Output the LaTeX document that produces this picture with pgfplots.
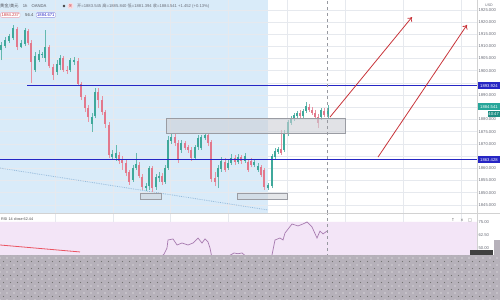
\documentclass[border=0pt]{standalone}
\usepackage{fontspec}
\setmainfont{Liberation Sans}
\newfontfamily\cjk{Noto Sans CJK SC}
\newfontfamily\dejavu{DejaVu Sans}
\usepackage{pgfplots}
\pgfplotsset{compat=1.18}
\usepackage{pgfplotstable}
\usetikzlibrary{arrows.meta,patterns.meta}

\definecolor{upc}{HTML}{3FA89B}
\definecolor{dnc}{HTML}{E2788C}
\definecolor{bluebg}{HTML}{D9EBF9}
\definecolor{lvl}{HTML}{2626C4}
\definecolor{arr}{HTML}{C8343A}
\definecolor{rsic}{HTML}{A77BB0}
\definecolor{rsibg}{HTML}{F3E5F7}
\definecolor{gridc}{HTML}{E6E9EE}
\definecolor{lblc}{HTML}{6A6D78}
\definecolor{maskc}{HTML}{B6B1BA}
\definecolor{zone}{HTML}{CDD0D6}
\definecolor{zoneb}{HTML}{9A9CA3}
\definecolor{trend}{HTML}{94BADB}
\definecolor{curc}{HTML}{26A69A}

\newcommand{\tf}{\fontsize{4.2}{5}\selectfont}

\pgfplotsset{candle/.style={draw=none, mark=none, forget plot,
  error bars/.cd, y dir=plus, y explicit, error mark=none}}

% up candles: x open high low close
\pgfplotstableread{
x o h l c
1 1908.5 1911.8 1904.4 1910.6
5 1910.1 1913.8 1909.3 1912.6
9 1912.2 1915.1 1911.4 1914.2
13 1913.4 1918.8 1912.6 1917.5
21 1909.7 1912.6 1909.3 1911.4
25 1911.0 1917.5 1910.1 1916.7
35 1900.3 1907.7 1899.5 1906.0
39 1904.4 1908.5 1903.6 1906.9
42 1906.5 1907.7 1905.2 1906.9
45 1905.2 1916.7 1903.6 1909.7
57 1899.5 1904.4 1898.3 1902.8
60 1902.4 1906.5 1900.3 1905.2
70 1900.3 1905.2 1899.5 1904.4
74 1903.6 1905.6 1902.4 1904.4
92 1878.2 1882.7 1874.9 1881.0
95 1881.4 1892.9 1880.6 1891.3
112 1864.6 1867.5 1863.4 1865.9
116 1864.2 1869.6 1863.0 1866.3
133 1855.2 1861.4 1854.4 1860.1
136 1860.1 1866.3 1859.3 1861.8
146 1851.9 1854.0 1850.7 1852.7
149 1852.7 1860.9 1851.1 1860.1
156 1852.3 1857.7 1851.1 1856.4
159 1856.0 1858.5 1854.4 1856.8
165 1854.4 1861.4 1853.6 1860.1
168 1860.1 1873.2 1859.3 1871.6
171 1871.2 1874.1 1870.0 1872.8
181 1867.5 1871.6 1866.3 1870.4
195 1864.2 1869.6 1863.4 1868.7
198 1868.7 1873.7 1867.5 1872.4
201 1868.3 1873.7 1867.5 1872.8
205 1872.4 1874.5 1871.6 1873.7
218 1856.4 1861.4 1851.9 1860.1
221 1859.7 1864.6 1858.5 1863.0
228 1860.1 1863.4 1859.3 1862.2
231 1862.2 1865.9 1861.4 1864.2
238 1862.6 1865.9 1861.8 1864.6
245 1863.0 1866.3 1862.2 1865.0
254 1861.4 1863.4 1860.5 1862.6
258 1859.3 1862.2 1858.5 1860.9
268 1851.9 1854.0 1851.1 1853.2
272 1852.7 1865.9 1851.9 1865.0
275 1864.6 1868.3 1863.8 1867.1
278 1866.7 1868.7 1865.9 1867.9
284 1867.5 1875.7 1866.7 1874.1
288 1874.1 1879.8 1873.2 1879.0
291 1878.6 1881.4 1877.8 1880.6
294 1880.2 1882.7 1879.4 1881.9
297 1881.4 1883.5 1880.6 1882.7
303 1881.4 1884.3 1880.6 1883.5
306 1883.5 1887.2 1882.7 1885.5
321 1881.0 1884.7 1879.8 1883.9
328 1881.4 1886.0 1880.6 1884.7
}\upcandles

% down candles: x open high low close
\pgfplotstableread{
x o h l c
17 1917.1 1917.9 1908.5 1909.7
28 1916.3 1917.1 1910.6 1911.4
31 1911.4 1912.6 1895.0 1903.6
49 1909.7 1910.6 1901.1 1901.9
53 1901.5 1902.8 1896.2 1898.3
63 1905.2 1906.0 1899.5 1900.3
67 1900.3 1901.9 1898.7 1899.9
78 1904.0 1905.2 1893.7 1894.6
81 1894.6 1895.4 1888.0 1889.2
85 1889.2 1890.0 1883.1 1884.7
88 1884.7 1886.0 1879.0 1881.0
98 1891.3 1892.9 1884.7 1888.0
102 1888.0 1889.6 1881.9 1883.1
105 1883.1 1883.9 1876.5 1878.2
109 1877.8 1879.0 1864.2 1865.5
119 1865.5 1866.7 1861.8 1863.0
122 1863.4 1865.0 1859.3 1862.2
126 1862.2 1863.4 1856.8 1858.1
129 1858.5 1859.3 1853.2 1854.4
139 1861.4 1862.6 1856.0 1856.8
142 1856.4 1857.7 1851.1 1852.3
152 1860.1 1860.9 1850.3 1851.9
162 1856.8 1858.1 1853.2 1854.4
175 1872.8 1874.1 1869.1 1870.4
178 1870.4 1871.6 1862.2 1863.4
185 1870.4 1871.2 1867.5 1868.3
188 1868.7 1869.6 1866.3 1867.5
191 1867.5 1868.7 1863.0 1864.2
208 1873.7 1874.5 1869.1 1870.4
211 1870.8 1871.6 1854.4 1855.6
215 1856.0 1858.5 1852.7 1854.4
225 1862.6 1864.2 1858.5 1859.3
235 1864.2 1865.5 1861.4 1862.6
241 1864.6 1865.5 1861.8 1863.0
248 1862.6 1863.8 1858.5 1859.3
251 1863.0 1864.2 1860.5 1861.4
261 1860.5 1861.4 1856.4 1857.3
264 1859.3 1860.1 1851.1 1852.3
281 1867.9 1875.7 1865.5 1866.3
300 1882.7 1883.9 1880.6 1881.4
309 1885.1 1886.4 1883.1 1883.9
312 1883.9 1885.1 1881.9 1882.7
315 1882.7 1883.9 1880.2 1881.0
318 1881.0 1882.3 1876.5 1878.6
324 1883.5 1884.7 1881.0 1881.9
}\dncandles

% RSI (14, close)
\pgfplotstableread{
x r
150 38
155 40
160 41
164 44
167 50.0
168 57.7
173 58.7
177 52.9
182 54.8
188 52.9
193 54.8
198 59.6
202 54.8
205 58.7
208 55.8
210 50.0
212 40.4
216 37
220 39
225 41
230 43
234 45.2
238 44.5
242 45.2
246 42
250 41
255 40
260 39
265 35
268 36.5
272 43.3
275 57.7
280 59.6
283 57.7
285 64.4
292 73.1
298 71.2
303 73.1
307 75.0
312 70.2
317 59.6
320 66.3
323 63.5
327 66.3
}\rsidata

\begin{document}
\begin{tikzpicture}
\fill[white] (0bp,0bp) rectangle (500bp,300bp);
\clip (0bp,0bp) rectangle (500bp,300bp);
% highlighted time range (background)
\fill[bluebg] (0bp,87bp) rectangle (268bp,300bp);

% ---------------- main price pane ----------------
\begin{axis}[
  at={(0bp,87bp)}, anchor=south west,
  scale only axis, width=477bp, height=213bp,
  xmin=0, xmax=477, ymin=1841.67, ymax=1929,
  axis line style={draw=none},
  tick style={draw=none},
  xtick={55,113,170,228,287,345,403,461},
  xticklabels={},
  ytick={1845,1850,...,1925},
  yticklabels={1845.000,1850.000,1855.000,1860.000,,1870.000,1875.000,1880.000,,1890.000,,1900.000,1905.000,1910.000,1915.000,1920.000,1925.000},
  yticklabel pos=right,
  yticklabel style={font=\tf, text=lblc, anchor=west, xshift=-2bp},
  grid=major, grid style={gridc, line width=0.5bp},
]
% dotted trend line
\addplot[trend, densely dotted, line width=0.8bp] coordinates {(0,1860.1) (268,1842.9)};
% candles: wicks
\addplot[candle, error bar style={draw=upc!80, solid, line width=0.55bp}]
  table[x=x, y=l, y error expr=\thisrow{h}-\thisrow{l}] {\upcandles};
\addplot[candle, error bar style={draw=dnc!80, solid, line width=0.55bp}]
  table[x=x, y=l, y error expr=\thisrow{h}-\thisrow{l}] {\dncandles};
% candles: bodies
\addplot[candle, error bar style={draw=upc, solid, line width=2.3bp}]
  table[x=x, y=o, y error expr=\thisrow{c}-\thisrow{o}] {\upcandles};
\addplot[candle, error bar style={draw=dnc, solid, line width=2.3bp}]
  table[x=x, y=c, y error expr=\thisrow{o}-\thisrow{c}] {\dncandles};
% zones
\addplot[fill=zone, fill opacity=0.6, draw=zoneb, line width=0.6bp] coordinates {(166,1874.5) (345,1874.5) (345,1880.6) (166,1880.6) (166,1874.5)};
\addplot[fill=zone, fill opacity=0.5, draw=zoneb, line width=0.6bp] coordinates {(140,1847.4) (161,1847.4) (161,1849.9) (140,1849.9) (140,1847.4)};
\addplot[fill=zone, fill opacity=0.5, draw=zoneb, line width=0.6bp] coordinates {(237,1847.4) (287,1847.4) (287,1849.9) (237,1849.9) (237,1847.4)};
% horizontal levels
\addplot[lvl, line width=1.1bp] coordinates {(27,1893.924) (477,1893.924)};
\addplot[lvl, line width=1.1bp] coordinates {(0,1863.428) (477,1863.428)};
% crosshair
\addplot[lblc!70, dashed, line width=0.4bp] coordinates {(327,1841.67) (327,1929)};
% arrows
\addplot[arr, line width=0.8bp, -{To[length=4bp,width=6bp]}] coordinates {(330,1881.0) (412,1922.0)};
\addplot[arr, line width=0.8bp, -{To[length=4bp,width=6bp]}] coordinates {(378,1864.6) (467,1918.8)};
\end{axis}

% ---------------- RSI pane ----------------
\begin{axis}[
  at={(0bp,44bp)}, anchor=south west,
  scale only axis, width=477bp, height=43bp,
  xmin=0, xmax=477, ymin=42.31, ymax=83.65,
  axis line style={draw=none},
  tick style={draw=none},
  xtick={55,113,170,228,287,345,403,461},
  xticklabels={},
  ytick={50,62.5,75},
  yticklabels={50.00,62.50,75.00},
  yticklabel pos=right,
  yticklabel style={font=\tf, text=lblc, anchor=west, xshift=-2bp},
  grid=major, grid style={gridc, line width=0.5bp},
]
\addplot[fill=rsibg, draw=none] coordinates {(0,30) (477,30) (477,75) (0,75) (0,30)};
\addplot[dnc!70!red, line width=0.8bp] coordinates {(0,52.9) (80,46.2)};
\addplot[rsic, line width=0.7bp] table[x=x, y=r] {\rsidata};
\addplot[lblc!70, dashed, line width=0.4bp] coordinates {(327,30) (327,83.65)};
\end{axis}

\begin{scope}[x=1bp,y=1bp]
% separators
\draw[gray!35, line width=0.6bp] (0,87) -- (500,87);
\draw[gray!35, line width=0.5bp] (477,44) -- (477,300);

% header line 1
\node[anchor=west, font=\tf, text=lblc!80!black, inner sep=0] at (0,294) {{\cjk 黄金/美元}\quad 1h\quad OANDA};
\fill[black!75] (64,294) circle (1.3);
\fill[dnc!25] (70.5,294) circle (3.2);
\node[font=\fontsize{3.6}{4}\selectfont\cjk, text=arr, inner sep=0] at (70.5,294) {关};
\node[anchor=west, font=\tf, text=lblc, inner sep=0] at (77,294) {{\cjk 开}=1883.545 {\cjk 高}=1885.840 {\cjk 低}=1881.394 {\cjk 收}=1884.541 +1.452 (+0.13\%)};
% header line 2
\node[anchor=west, draw=dnc!70, fill=white, text=arr, font=\tf, inner sep=0.9bp, rounded corners=1bp] at (0.5,285) {1884.237};
\node[anchor=west, font=\tf, text=black!70, inner sep=0] at (25,285) {56.4};
\node[anchor=west, draw=lvl!50, fill=white, text=lvl, font=\tf, inner sep=0.9bp, rounded corners=1bp] at (36,285) {1884.671};

% price axis labels
\node[anchor=west, font=\fontsize{3.6}{4}\selectfont, text=lblc, inner sep=0] at (485,295) {USD};
\node[anchor=west, fill=lvl, text=white, font=\tf, inner sep=0.9bp, minimum width=22.5bp, minimum height=7bp] at (477.5,214) {1893.924};
\node[anchor=west, fill=lvl, text=white, font=\tf, inner sep=0.9bp, minimum width=22.5bp, minimum height=7bp] at (477.5,140) {1863.428};
\node[anchor=west, fill=curc, text=white, font=\tf, inner sep=0.9bp, minimum width=22.5bp, minimum height=7bp] at (477.5,193) {1884.541};
\node[anchor=east, fill=curc!85!black, text=white, font=\tf, inner sep=0.9bp, minimum height=6.5bp] at (500,186) {40:47};

% RSI header and icons
\node[anchor=west, font=\fontsize{3.8}{4.5}\selectfont, text=black!70, inner sep=0] at (1,81) {RSI 14 close 62.44};
\node[font=\fontsize{4}{5}\selectfont\dejavu, text=black!60, inner sep=0] at (453,80) {↑};
\node[font=\fontsize{4}{5}\selectfont\dejavu, text=black!60, inner sep=0] at (462,80) {×};
\node[font=\fontsize{4}{5}\selectfont\dejavu, text=black!60, inner sep=0] at (470,80) {□};

% grey dotted overlay at the bottom
\fill[maskc] (0,0) rectangle (500,44.5);
\fill[maskc] (494,44) rectangle (500,60);
\fill[pattern={Dots[radius=0.7bp, distance=7bp]}, pattern color=white!90!maskc] (0,0) rectangle (500,44.5);
\fill[pattern={Dots[radius=0.6bp, distance=7bp, xshift=3.5bp, yshift=3.5bp]}, pattern color=black!55] (0,0) rectangle (500,44.5);
\fill[black!75] (470,44.5) rectangle (493,50);
\end{scope}
\end{tikzpicture}
\end{document}
